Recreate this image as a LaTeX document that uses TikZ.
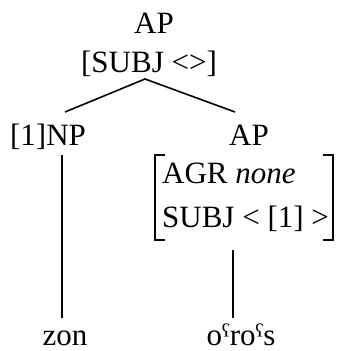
\documentclass[tikz,border=0pt]{standalone}
\usepackage{fontspec}
\setmainfont{Liberation Serif}
\usepackage{tikz}

\begin{document}
\begin{tikzpicture}[x=1pt, y=-1pt, font=\fontsize{31}{36}\selectfont,
    every node/.style={inner sep=0pt},
    branch/.style={line width=1.6pt},
    brack/.style={line width=1.2pt}]
        \useasboundingbox (0,0) rectangle (338,351);

        % Mother node
        \node[anchor=base] (top) at (154,33) {AP};
        \node[anchor=base] (topfeat) at (149,72) {[SUBJ <>]};

        % Daughters
        \node[anchor=base] (np) at (48,145) {[1]NP};
        \node[anchor=base] (ap) at (249,145) {AP};

        % Feature matrix of the AP
        \node[anchor=base west] (agr) at (162,183) {AGR \textit{none}};
        \node[anchor=base west] (subj) at (162,227) {SUBJ < [1] >};
        \draw[brack] (165,155) -- (155,155) -- (155,240) -- (165,240);
        \draw[brack] (323,155) -- (333,155) -- (333,240) -- (323,240);

        % Words
        \node[anchor=base] (zon) at (65,345) {zon};
        \node[anchor=base] (oros) at (241,345) {oˤroˤs};

        % Branches
        \coordinate (apex) at (145,79);
        \coordinate (npleg) at (65,112);
        \coordinate (apleg) at (235,112);
        \coordinate (npfoot) at (62,155);
        \coordinate (zonhead) at (62,318);
        \coordinate (apfoot) at (233,250);
        \coordinate (oroshead) at (233,318);
        \draw[branch] (npleg) -- (apex) -- (apleg);
        \draw[branch] (npfoot) -- (zonhead);
        \draw[branch] (apfoot) -- (oroshead);
    \end{tikzpicture}
\end{document}
